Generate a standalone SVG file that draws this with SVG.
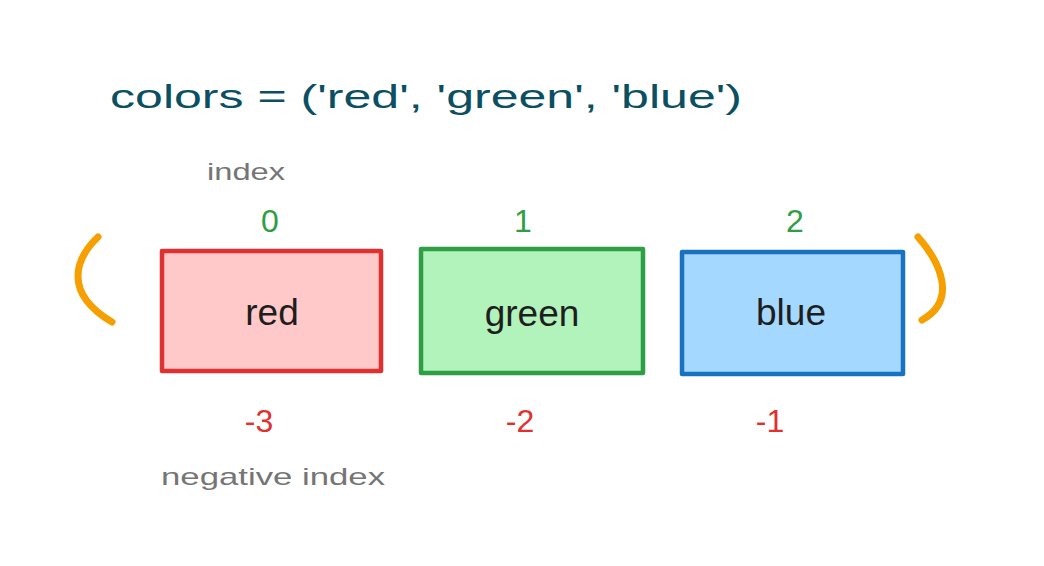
<svg xmlns="http://www.w3.org/2000/svg" width="1044" height="566" viewBox="0 0 1044 566">
<style>
.hand{font-family:"Liberation Sans","DejaVu Sans",sans-serif;}
.title{font-size:34px;fill:#0b4f63;}
.label{font-size:37px;fill:#1e1e1e;text-anchor:middle;}
.gray{font-size:24px;fill:#757575;}
.pos{font-size:32px;fill:#2f9e44;text-anchor:middle;}
.neg{font-size:32px;fill:#e03131;text-anchor:middle;}
.paren{fill:none;stroke:#f59f00;stroke-width:7;stroke-linecap:round;}
.box{stroke-width:4.5;stroke-linejoin:round;}
</style>
<rect width="1044" height="566" fill="#ffffff"/>
<text class="hand title" x="110" y="108" textLength="632" lengthAdjust="spacingAndGlyphs">colors = ('red', 'green', 'blue')</text>
<text class="hand gray" x="207" y="180" textLength="78" lengthAdjust="spacingAndGlyphs">index</text>
<text class="hand gray" x="161" y="485" textLength="224" lengthAdjust="spacingAndGlyphs">negative index</text>
<g id="parens">
<path class="paren" d="M98 237 C76 258 62 292 112 322"/>
<path class="paren" d="M918 237 C940 262 958 300 922 320"/>
</g>
<g id="node-red">
<rect class="box" x="162" y="251" width="219" height="120" fill="#ffc9c9" stroke="#e03131"/>
<text class="hand label" x="272" y="325">red</text>
<text class="hand pos" x="270" y="232">0</text>
<text class="hand neg" x="259" y="432">-3</text>
</g>
<g id="node-green">
<rect class="box" x="421" y="249" width="222" height="124" fill="#b2f2bb" stroke="#2f9e44"/>
<text class="hand label" x="532" y="326">green</text>
<text class="hand pos" x="523" y="232">1</text>
<text class="hand neg" x="520" y="432">-2</text>
</g>
<g id="node-blue">
<rect class="box" x="682" y="252" width="221" height="122" fill="#a5d8ff" stroke="#1971c2"/>
<text class="hand label" x="791" y="325">blue</text>
<text class="hand pos" x="795" y="232">2</text>
<text class="hand neg" x="770" y="432">-1</text>
</g>
<g id="connectors"></g>
</svg>
